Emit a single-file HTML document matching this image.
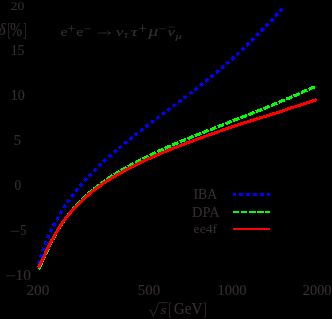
<!DOCTYPE html>
<html><head><meta charset="utf-8"><title>plot</title>
<style>
html,body{margin:0;padding:0;background:#000;}
body{width:332px;height:319px;overflow:hidden;}
svg{display:block;}
text{font-family:"Liberation Serif",serif;fill:#352e2e;stroke:#352e2e;stroke-width:0.15px;}
.i{font-style:italic;}
</style></head><body>
<svg width="332" height="319" viewBox="0 0 332 319">
<rect width="332" height="319" fill="#000"/>
<g shape-rendering="crispEdges">
<path d="M38.40,265.52 L38.90,263.34 L39.40,261.35 L39.90,259.50 L40.40,257.76 L40.90,256.10 L41.40,254.51 L41.90,252.99 L42.40,251.51 L42.90,250.08 L43.40,248.70 L43.90,247.35 L44.40,246.03 L44.90,244.74 L45.40,243.48 L45.90,242.25 L46.40,241.04 L46.90,239.85 L47.40,238.69 L47.90,237.54 L48.40,236.42 L48.90,235.31 L49.40,234.22 L49.90,233.14 L50.40,232.09 L50.90,231.04 L51.40,230.01 L51.90,229.00 L52.40,228.00 L52.90,227.01 L53.40,226.03 L53.90,225.07 L54.40,224.11 L54.90,223.17 L55.40,222.24 L55.90,221.32 L56.40,220.41 L56.90,219.51 L57.40,218.62 L57.90,217.74 L58.40,216.87 L58.90,216.01 L59.40,215.15 L59.90,214.31 L60.40,213.47 L60.90,212.64 L61.40,211.82 L61.90,211.01 L62.40,210.21 L62.90,209.41 L63.40,208.62 L63.90,207.84 L64.40,207.07 L64.90,206.30 L65.40,205.54 L65.90,204.78 L66.40,204.04 L66.90,203.30 L67.40,202.56 L67.90,201.84 L68.40,201.12 L68.90,200.40 L69.40,199.69 L69.90,198.99 L70.40,198.30 L70.90,197.60 L71.40,196.92 L71.90,196.24 L72.40,195.57 L72.90,194.90 L73.40,194.24 L73.90,193.58 L74.40,192.93 L74.90,192.29 L75.40,191.65 L75.90,191.01 L76.40,190.38 L76.90,189.76 L77.40,189.14 L77.90,188.52 L78.40,187.91 L78.90,187.31 L79.40,186.70 L79.90,186.11 L80.40,185.52 L80.90,184.93 L81.40,184.34 L81.90,183.77 L82.40,183.19 L82.90,182.62 L83.40,182.05 L83.90,181.49 L84.40,180.93 L84.90,180.37 L85.40,179.82 L85.90,179.27 L86.40,178.72 L86.90,178.18 L87.40,177.64 L87.90,177.10 L88.40,176.57 L88.90,176.04 L89.40,175.51 L89.90,174.99 L90.40,174.47 L90.90,173.95 L91.40,173.43 L91.90,172.92 L92.40,172.41 L92.90,171.90 L93.40,171.40 L93.90,170.90 L94.40,170.40 L94.90,169.90 L95.40,169.40 L95.90,168.91 L96.40,168.42 L96.90,167.93 L97.40,167.45 L97.90,166.96 L98.40,166.48 L98.90,166.00 L99.40,165.52 L99.90,165.05 L100.40,164.57 L100.90,164.10 L101.40,163.63 L101.90,163.17 L102.40,162.70 L102.90,162.24 L103.40,161.77 L103.90,161.31 L104.40,160.85 L104.90,160.40 L105.40,159.94 L105.90,159.49 L106.40,159.04 L106.90,158.59 L107.40,158.14 L107.90,157.69 L108.40,157.24 L108.90,156.80 L109.40,156.36 L109.90,155.91 L110.40,155.47 L110.90,155.04 L111.40,154.60 L111.90,154.16 L112.40,153.73 L112.90,153.29 L113.40,152.86 L113.90,152.43 L114.40,152.00 L114.90,151.57 L115.40,151.14 L115.90,150.72 L116.40,150.29 L116.90,149.87 L117.40,149.45 L117.90,149.02 L118.40,148.60 L118.90,148.18 L119.40,147.77 L119.90,147.35 L120.40,146.93 L120.90,146.52 L121.40,146.10 L121.90,145.69 L122.40,145.27 L122.90,144.86 L123.40,144.45 L123.90,144.04 L124.40,143.63 L124.90,143.22 L125.40,142.82 L125.90,142.41 L126.40,142.00 L126.90,141.60 L127.40,141.20 L127.90,140.79 L128.40,140.39 L128.90,139.99 L129.40,139.59 L129.90,139.19 L130.40,138.79 L130.90,138.39 L131.40,137.99 L131.90,137.59 L132.40,137.19 L132.90,136.80 L133.40,136.40 L133.90,136.01 L134.40,135.61 L134.90,135.22 L135.40,134.82 L135.90,134.43 L136.40,134.04 L136.90,133.65 L137.40,133.26 L137.90,132.87 L138.40,132.48 L138.90,132.09 L139.40,131.70 L139.90,131.31 L140.40,130.92 L140.90,130.53 L141.40,130.15 L141.90,129.76 L142.40,129.37 L142.90,128.99 L143.40,128.60 L143.90,128.22 L144.40,127.83 L144.90,127.45 L145.40,127.07 L145.90,126.68 L146.40,126.30 L146.90,125.92 L147.40,125.54 L147.90,125.16 L148.40,124.77 L148.90,124.39 L149.40,124.01 L149.90,123.63 L150.40,123.25 L150.90,122.87 L151.40,122.49 L151.90,122.12 L152.40,121.74 L152.90,121.36 L153.40,120.98 L153.90,120.60 L154.40,120.22 L154.90,119.85 L155.40,119.47 L155.90,119.09 L156.40,118.72 L156.90,118.34 L157.40,117.97 L157.90,117.59 L158.40,117.21 L158.90,116.84 L159.40,116.46 L159.90,116.09 L160.40,115.71 L160.90,115.34 L161.40,114.97 L161.90,114.59 L162.40,114.22 L162.90,113.84 L163.40,113.47 L163.90,113.10 L164.40,112.72 L164.90,112.35 L165.40,111.98 L165.90,111.60 L166.40,111.23 L166.90,110.86 L167.40,110.49 L167.90,110.11 L168.40,109.74 L168.90,109.37 L169.40,109.00 L169.90,108.62 L170.40,108.25 L170.90,107.88 L171.40,107.50 L171.90,107.13 L172.40,106.76 L172.90,106.39 L173.40,106.01 L173.90,105.64 L174.40,105.27 L174.90,104.89 L175.40,104.52 L175.90,104.15 L176.40,103.77 L176.90,103.40 L177.40,103.02 L177.90,102.65 L178.40,102.27 L178.90,101.90 L179.40,101.52 L179.90,101.15 L180.40,100.77 L180.90,100.40 L181.40,100.02 L181.90,99.64 L182.40,99.27 L182.90,98.89 L183.40,98.51 L183.90,98.13 L184.40,97.75 L184.90,97.38 L185.40,97.00 L185.90,96.62 L186.40,96.24 L186.90,95.86 L187.40,95.48 L187.90,95.09 L188.40,94.71 L188.90,94.33 L189.40,93.95 L189.90,93.57 L190.40,93.18 L190.90,92.80 L191.40,92.41 L191.90,92.03 L192.40,91.64 L192.90,91.26 L193.40,90.87 L193.90,90.48 L194.40,90.10 L194.90,89.71 L195.40,89.32 L195.90,88.93 L196.40,88.54 L196.90,88.15 L197.40,87.76 L197.90,87.37 L198.40,86.98 L198.90,86.58 L199.40,86.19 L199.90,85.80 L200.40,85.40 L200.90,85.01 L201.40,84.61 L201.90,84.21 L202.40,83.82 L202.90,83.42 L203.40,83.02 L203.90,82.62 L204.40,82.22 L204.90,81.82 L205.40,81.42 L205.90,81.02 L206.40,80.61 L206.90,80.21 L207.40,79.81 L207.90,79.40 L208.40,79.00 L208.90,78.59 L209.40,78.18 L209.90,77.77 L210.40,77.37 L210.90,76.96 L211.40,76.55 L211.90,76.14 L212.40,75.72 L212.90,75.31 L213.40,74.90 L213.90,74.48 L214.40,74.07 L214.90,73.65 L215.40,73.24 L215.90,72.82 L216.40,72.40 L216.90,71.98 L217.40,71.56 L217.90,71.14 L218.40,70.72 L218.90,70.30 L219.40,69.87 L219.90,69.45 L220.40,69.02 L220.90,68.60 L221.40,68.17 L221.90,67.74 L222.40,67.32 L222.90,66.89 L223.40,66.46 L223.90,66.02 L224.40,65.59 L224.90,65.16 L225.40,64.72 L225.90,64.29 L226.40,63.85 L226.90,63.42 L227.40,62.98 L227.90,62.54 L228.40,62.10 L228.90,61.66 L229.40,61.22 L229.90,60.78 L230.40,60.33 L230.90,59.89 L231.40,59.44 L231.90,59.00 L232.40,58.55 L232.90,58.10 L233.40,57.65 L233.90,57.20 L234.40,56.75 L234.90,56.30 L235.40,55.84 L235.90,55.39 L236.40,54.93 L236.90,54.48 L237.40,54.02 L237.90,53.56 L238.40,53.10 L238.90,52.64 L239.40,52.18 L239.90,51.72 L240.40,51.25 L240.90,50.79 L241.40,50.32 L241.90,49.86 L242.40,49.39 L242.90,48.92 L243.40,48.45 L243.90,47.98 L244.40,47.51 L244.90,47.03 L245.40,46.56 L245.90,46.08 L246.40,45.61 L246.90,45.13 L247.40,44.65 L247.90,44.17 L248.40,43.69 L248.90,43.21 L249.40,42.73 L249.90,42.24 L250.40,41.76 L250.90,41.27 L251.40,40.78 L251.90,40.29 L252.40,39.80 L252.90,39.31 L253.40,38.82 L253.90,38.33 L254.40,37.83 L254.90,37.34 L255.40,36.84 L255.90,36.35 L256.40,35.85 L256.90,35.35 L257.40,34.85 L257.90,34.34 L258.40,33.84 L258.90,33.34 L259.40,32.83 L259.90,32.32 L260.40,31.82 L260.90,31.31 L261.40,30.80 L261.90,30.29 L262.40,29.77 L262.90,29.26 L263.40,28.75 L263.90,28.23 L264.40,27.71 L264.90,27.19 L265.40,26.67 L265.90,26.15 L266.40,25.63 L266.90,25.11 L267.40,24.58 L267.90,24.06 L268.40,23.53 L268.90,23.00 L269.40,22.48 L269.90,21.95 L270.40,21.41 L270.90,20.88 L271.40,20.35 L271.90,19.81 L272.40,19.28 L272.90,18.74 L273.40,18.20 L273.90,17.66 L274.40,17.12 L274.90,16.58 L275.40,16.03 L275.90,15.49 L276.40,14.94 L276.90,14.39 L277.40,13.85 L277.90,13.30 L278.40,12.75 L278.90,12.19 L279.40,11.64 L279.90,11.08 L280.40,10.53 L280.90,9.97 L281.40,9.41 L281.90,8.85 L282.40,8.29 L282.90,7.73 L283.00,7.62" fill="none" stroke="#0000ff" stroke-width="3.3" stroke-dasharray="3.7 3.13" stroke-dashoffset="5.48"/>
<path d="M38.50,268.94 L39.00,268.14 L39.50,267.23 L40.00,266.26 L40.50,265.24 L41.00,264.19 L41.50,263.12 L42.00,262.04 L42.50,260.95 L43.00,259.85 L43.50,258.76 L44.00,257.66 L44.50,256.56 L45.00,255.47 L45.50,254.39 L46.00,253.31 L46.50,252.24 L47.00,251.17 L47.50,250.11 L48.00,249.06 L48.50,248.02 L49.00,246.99 L49.50,245.96 L50.00,244.95 L50.50,243.95 L51.00,242.95 L51.50,241.95 L52.00,240.97 L52.50,239.99 L53.00,239.02 L53.50,238.06 L54.00,237.11 L54.50,236.17 L55.00,235.24 L55.50,234.32 L56.00,233.41 L56.50,232.51 L57.00,231.63 L57.50,230.75 L58.00,229.90 L58.50,229.05 L59.00,228.22 L59.50,227.40 L60.00,226.60 L60.50,225.81 L61.00,225.03 L61.50,224.27 L62.00,223.51 L62.50,222.77 L63.00,222.04 L63.50,221.32 L64.00,220.61 L64.50,219.91 L65.00,219.22 L65.50,218.54 L66.00,217.87 L66.50,217.21 L67.00,216.55 L67.50,215.91 L68.00,215.27 L68.50,214.63 L69.00,214.01 L69.50,213.39 L70.00,212.78 L70.50,212.17 L71.00,211.57 L71.50,210.97 L72.00,210.38 L72.50,209.79 L73.00,209.21 L73.50,208.63 L74.00,208.06 L74.50,207.49 L75.00,206.92 L75.50,206.36 L76.00,205.81 L76.50,205.25 L77.00,204.71 L77.50,204.17 L78.00,203.64 L78.50,203.11 L79.00,202.58 L79.50,202.06 L80.00,201.55 L80.50,201.04 L81.00,200.54 L81.50,200.04 L82.00,199.55 L82.50,199.06 L83.00,198.58 L83.50,198.10 L84.00,197.62 L84.50,197.15 L85.00,196.69 L85.50,196.22 L86.00,195.77 L86.50,195.32 L87.00,194.87 L87.50,194.42 L88.00,193.99 L88.50,193.55 L89.00,193.12 L89.50,192.69 L90.00,192.27 L90.50,191.85 L91.00,191.43 L91.50,191.02 L92.00,190.61 L92.50,190.20 L93.00,189.79 L93.50,189.38 L94.00,188.98 L94.50,188.58 L95.00,188.18 L95.50,187.79 L96.00,187.39 L96.50,187.00 L97.00,186.61 L97.50,186.23 L98.00,185.84 L98.50,185.46 L99.00,185.08 L99.50,184.70 L100.00,184.33 L100.50,183.95 L101.00,183.58 L101.50,183.22 L102.00,182.85 L102.50,182.49 L103.00,182.13 L103.50,181.77 L104.00,181.41 L104.50,181.06 L105.00,180.71 L105.50,180.36 L106.00,180.01 L106.50,179.67 L107.00,179.33 L107.50,178.99 L108.00,178.65 L108.50,178.32 L109.00,177.99 L109.50,177.66 L110.00,177.33 L110.50,177.01 L111.00,176.69 L111.50,176.37 L112.00,176.05 L112.50,175.73 L113.00,175.41 L113.50,175.09 L114.00,174.78 L114.50,174.46 L115.00,174.15 L115.50,173.84 L116.00,173.53 L116.50,173.23 L117.00,172.92 L117.50,172.61 L118.00,172.31 L118.50,172.01 L119.00,171.71 L119.50,171.41 L120.00,171.11 L120.50,170.82 L121.00,170.52 L121.50,170.23 L122.00,169.94 L122.50,169.65 L123.00,169.36 L123.50,169.08 L124.00,168.79 L124.50,168.51 L125.00,168.23 L125.50,167.95 L126.00,167.68 L126.50,167.40 L127.00,167.13 L127.50,166.85 L128.00,166.58 L128.50,166.30 L129.00,166.03 L129.50,165.76 L130.00,165.49 L130.50,165.22 L131.00,164.95 L131.50,164.68 L132.00,164.41 L132.50,164.15 L133.00,163.88 L133.50,163.61 L134.00,163.35 L134.50,163.08 L135.00,162.82 L135.50,162.56 L136.00,162.29 L136.50,162.03 L137.00,161.77 L137.50,161.51 L138.00,161.25 L138.50,160.99 L139.00,160.73 L139.50,160.47 L140.00,160.21 L140.50,159.96 L141.00,159.70 L141.50,159.45 L142.00,159.19 L142.50,158.94 L143.00,158.69 L143.50,158.44 L144.00,158.19 L144.50,157.94 L145.00,157.69 L145.50,157.45 L146.00,157.20 L146.50,156.95 L147.00,156.71 L147.50,156.47 L148.00,156.22 L148.50,155.98 L149.00,155.74 L149.50,155.50 L150.00,155.26 L150.50,155.02 L151.00,154.78 L151.50,154.54 L152.00,154.30 L152.50,154.06 L153.00,153.82 L153.50,153.58 L154.00,153.34 L154.50,153.10 L155.00,152.87 L155.50,152.63 L156.00,152.39 L156.50,152.16 L157.00,151.92 L157.50,151.69 L158.00,151.45 L158.50,151.22 L159.00,150.99 L159.50,150.76 L160.00,150.53 L160.50,150.30 L161.00,150.07 L161.50,149.84 L162.00,149.61 L162.50,149.39 L163.00,149.16 L163.50,148.93 L164.00,148.71 L164.50,148.49 L165.00,148.26 L165.50,148.04 L166.00,147.82 L166.50,147.60 L167.00,147.38 L167.50,147.16 L168.00,146.94 L168.50,146.72 L169.00,146.50 L169.50,146.28 L170.00,146.06 L170.50,145.85 L171.00,145.63 L171.50,145.41 L172.00,145.20 L172.50,144.98 L173.00,144.77 L173.50,144.55 L174.00,144.34 L174.50,144.12 L175.00,143.91 L175.50,143.70 L176.00,143.49 L176.50,143.27 L177.00,143.06 L177.50,142.85 L178.00,142.64 L178.50,142.43 L179.00,142.22 L179.50,142.01 L180.00,141.80 L180.50,141.59 L181.00,141.38 L181.50,141.17 L182.00,140.96 L182.50,140.75 L183.00,140.55 L183.50,140.34 L184.00,140.13 L184.50,139.92 L185.00,139.72 L185.50,139.51 L186.00,139.30 L186.50,139.10 L187.00,138.89 L187.50,138.69 L188.00,138.48 L188.50,138.28 L189.00,138.07 L189.50,137.87 L190.00,137.66 L190.50,137.46 L191.00,137.25 L191.50,137.05 L192.00,136.85 L192.50,136.64 L193.00,136.44 L193.50,136.24 L194.00,136.04 L194.50,135.83 L195.00,135.63 L195.50,135.43 L196.00,135.23 L196.50,135.03 L197.00,134.83 L197.50,134.63 L198.00,134.44 L198.50,134.24 L199.00,134.05 L199.50,133.85 L200.00,133.66 L200.50,133.47 L201.00,133.28 L201.50,133.09 L202.00,132.89 L202.50,132.70 L203.00,132.51 L203.50,132.32 L204.00,132.13 L204.50,131.94 L205.00,131.75 L205.50,131.56 L206.00,131.37 L206.50,131.19 L207.00,131.00 L207.50,130.81 L208.00,130.61 L208.50,130.42 L209.00,130.23 L209.50,130.04 L210.00,129.85 L210.50,129.66 L211.00,129.46 L211.50,129.27 L212.00,129.08 L212.50,128.88 L213.00,128.68 L213.50,128.49 L214.00,128.29 L214.50,128.09 L215.00,127.89 L215.50,127.69 L216.00,127.49 L216.50,127.29 L217.00,127.09 L217.50,126.89 L218.00,126.69 L218.50,126.50 L219.00,126.30 L219.50,126.10 L220.00,125.90 L220.50,125.70 L221.00,125.50 L221.50,125.30 L222.00,125.10 L222.50,124.91 L223.00,124.71 L223.50,124.51 L224.00,124.31 L224.50,124.11 L225.00,123.92 L225.50,123.72 L226.00,123.52 L226.50,123.32 L227.00,123.13 L227.50,122.93 L228.00,122.73 L228.50,122.54 L229.00,122.34 L229.50,122.14 L230.00,121.95 L230.50,121.75 L231.00,121.55 L231.50,121.36 L232.00,121.16 L232.50,120.96 L233.00,120.77 L233.50,120.57 L234.00,120.38 L234.50,120.18 L235.00,119.98 L235.50,119.79 L236.00,119.59 L236.50,119.40 L237.00,119.20 L237.50,119.00 L238.00,118.81 L238.50,118.61 L239.00,118.42 L239.50,118.22 L240.00,118.03 L240.50,117.83 L241.00,117.63 L241.50,117.44 L242.00,117.24 L242.50,117.05 L243.00,116.85 L243.50,116.66 L244.00,116.46 L244.50,116.26 L245.00,116.07 L245.50,115.87 L246.00,115.68 L246.50,115.48 L247.00,115.29 L247.50,115.09 L248.00,114.89 L248.50,114.70 L249.00,114.50 L249.50,114.31 L250.00,114.11 L250.50,113.91 L251.00,113.72 L251.50,113.52 L252.00,113.33 L252.50,113.13 L253.00,112.93 L253.50,112.74 L254.00,112.54 L254.50,112.35 L255.00,112.15 L255.50,111.95 L256.00,111.76 L256.50,111.56 L257.00,111.36 L257.50,111.17 L258.00,110.97 L258.50,110.77 L259.00,110.58 L259.50,110.38 L260.00,110.18 L260.50,109.98 L261.00,109.79 L261.50,109.59 L262.00,109.39 L262.50,109.18 L263.00,108.98 L263.50,108.78 L264.00,108.57 L264.50,108.37 L265.00,108.16 L265.50,107.96 L266.00,107.75 L266.50,107.54 L267.00,107.33 L267.50,107.12 L268.00,106.92 L268.50,106.71 L269.00,106.50 L269.50,106.28 L270.00,106.07 L270.50,105.86 L271.00,105.65 L271.50,105.44 L272.00,105.23 L272.50,105.01 L273.00,104.80 L273.50,104.59 L274.00,104.38 L274.50,104.17 L275.00,103.95 L275.50,103.74 L276.00,103.53 L276.50,103.32 L277.00,103.11 L277.50,102.89 L278.00,102.68 L278.50,102.47 L279.00,102.26 L279.50,102.05 L280.00,101.84 L280.50,101.63 L281.00,101.42 L281.50,101.22 L282.00,101.01 L282.50,100.80 L283.00,100.59 L283.50,100.38 L284.00,100.17 L284.50,99.97 L285.00,99.76 L285.50,99.55 L286.00,99.34 L286.50,99.13 L287.00,98.92 L287.50,98.71 L288.00,98.50 L288.50,98.29 L289.00,98.08 L289.50,97.87 L290.00,97.66 L290.50,97.45 L291.00,97.23 L291.50,97.02 L292.00,96.81 L292.50,96.59 L293.00,96.37 L293.50,96.15 L294.00,95.93 L294.50,95.71 L295.00,95.49 L295.50,95.26 L296.00,95.03 L296.50,94.81 L297.00,94.58 L297.50,94.35 L298.00,94.12 L298.50,93.89 L299.00,93.66 L299.50,93.43 L300.00,93.21 L300.50,92.98 L301.00,92.75 L301.50,92.53 L302.00,92.30 L302.50,92.08 L303.00,91.86 L303.50,91.64 L304.00,91.42 L304.50,91.20 L305.00,90.99 L305.50,90.77 L306.00,90.56 L306.50,90.35 L307.00,90.13 L307.50,89.92 L308.00,89.71 L308.50,89.49 L309.00,89.28 L309.50,89.07 L310.00,88.85 L310.50,88.64 L311.00,88.43 L311.50,88.21 L312.00,88.00 L312.50,87.79 L313.00,87.58 L313.50,87.36 L314.00,87.15 L314.50,86.94 L315.00,86.73 L315.50,86.52 L315.60,86.48" fill="none" stroke="#00ff00" stroke-width="3.15" stroke-dasharray="6.7 1.49"/>
<path d="M38.30,267.48 L38.80,266.75 L39.30,265.90 L39.80,264.96 L40.30,263.98 L40.80,262.96 L41.30,261.92 L41.80,260.86 L42.30,259.79 L42.80,258.72 L43.30,257.65 L43.80,256.58 L44.30,255.51 L44.80,254.44 L45.30,253.38 L45.80,252.32 L46.30,251.27 L46.80,250.23 L47.30,249.19 L47.80,248.17 L48.30,247.15 L48.80,246.14 L49.30,245.15 L49.80,244.16 L50.30,243.18 L50.80,242.21 L51.30,241.25 L51.80,240.30 L52.30,239.36 L52.80,238.44 L53.30,237.52 L53.80,236.61 L54.30,235.72 L54.80,234.83 L55.30,233.95 L55.80,233.09 L56.30,232.24 L56.80,231.39 L57.30,230.56 L57.80,229.74 L58.30,228.92 L58.80,228.12 L59.30,227.33 L59.80,226.55 L60.30,225.78 L60.80,225.02 L61.30,224.28 L61.80,223.55 L62.30,222.83 L62.80,222.13 L63.30,221.44 L63.80,220.75 L64.30,220.08 L64.80,219.42 L65.30,218.76 L65.80,218.12 L66.30,217.49 L66.80,216.86 L67.30,216.24 L67.80,215.63 L68.30,215.03 L68.80,214.43 L69.30,213.84 L69.80,213.25 L70.30,212.67 L70.80,212.10 L71.30,211.53 L71.80,210.96 L72.30,210.40 L72.80,209.84 L73.30,209.29 L73.80,208.73 L74.30,208.18 L74.80,207.64 L75.30,207.09 L75.80,206.55 L76.30,206.02 L76.80,205.49 L77.30,204.97 L77.80,204.45 L78.30,203.94 L78.80,203.43 L79.30,202.93 L79.80,202.43 L80.30,201.93 L80.80,201.45 L81.30,200.96 L81.80,200.49 L82.30,200.01 L82.80,199.54 L83.30,199.08 L83.80,198.62 L84.30,198.16 L84.80,197.71 L85.30,197.27 L85.80,196.83 L86.30,196.39 L86.80,195.95 L87.30,195.52 L87.80,195.10 L88.30,194.68 L88.80,194.26 L89.30,193.85 L89.80,193.44 L90.30,193.03 L90.80,192.63 L91.30,192.23 L91.80,191.83 L92.30,191.44 L92.80,191.05 L93.30,190.66 L93.80,190.27 L94.30,189.89 L94.80,189.51 L95.30,189.13 L95.80,188.75 L96.30,188.38 L96.80,188.01 L97.30,187.64 L97.80,187.27 L98.30,186.91 L98.80,186.55 L99.30,186.19 L99.80,185.83 L100.30,185.48 L100.80,185.13 L101.30,184.78 L101.80,184.43 L102.30,184.09 L102.80,183.74 L103.30,183.40 L103.80,183.07 L104.30,182.73 L104.80,182.40 L105.30,182.07 L105.80,181.74 L106.30,181.41 L106.80,181.09 L107.30,180.77 L107.80,180.45 L108.30,180.13 L108.80,179.82 L109.30,179.51 L109.80,179.20 L110.30,178.89 L110.80,178.59 L111.30,178.28 L111.80,177.98 L112.30,177.68 L112.80,177.38 L113.30,177.08 L113.80,176.78 L114.30,176.49 L114.80,176.19 L115.30,175.90 L115.80,175.61 L116.30,175.31 L116.80,175.03 L117.30,174.74 L117.80,174.45 L118.30,174.16 L118.80,173.88 L119.30,173.59 L119.80,173.31 L120.30,173.03 L120.80,172.75 L121.30,172.47 L121.80,172.19 L122.30,171.91 L122.80,171.64 L123.30,171.36 L123.80,171.09 L124.30,170.81 L124.80,170.54 L125.30,170.27 L125.80,170.00 L126.30,169.73 L126.80,169.46 L127.30,169.19 L127.80,168.93 L128.30,168.66 L128.80,168.40 L129.30,168.13 L129.80,167.87 L130.30,167.61 L130.80,167.35 L131.30,167.08 L131.80,166.83 L132.30,166.57 L132.80,166.31 L133.30,166.06 L133.80,165.80 L134.30,165.55 L134.80,165.29 L135.30,165.04 L135.80,164.79 L136.30,164.54 L136.80,164.29 L137.30,164.05 L137.80,163.80 L138.30,163.56 L138.80,163.31 L139.30,163.07 L139.80,162.83 L140.30,162.58 L140.80,162.34 L141.30,162.10 L141.80,161.86 L142.30,161.63 L142.80,161.39 L143.30,161.15 L143.80,160.92 L144.30,160.68 L144.80,160.45 L145.30,160.22 L145.80,159.98 L146.30,159.75 L146.80,159.52 L147.30,159.29 L147.80,159.06 L148.30,158.84 L148.80,158.61 L149.30,158.38 L149.80,158.15 L150.30,157.93 L150.80,157.70 L151.30,157.48 L151.80,157.26 L152.30,157.03 L152.80,156.81 L153.30,156.59 L153.80,156.37 L154.30,156.15 L154.80,155.93 L155.30,155.71 L155.80,155.49 L156.30,155.27 L156.80,155.06 L157.30,154.84 L157.80,154.62 L158.30,154.41 L158.80,154.19 L159.30,153.97 L159.80,153.76 L160.30,153.54 L160.80,153.33 L161.30,153.12 L161.80,152.91 L162.30,152.70 L162.80,152.48 L163.30,152.28 L163.80,152.07 L164.30,151.86 L164.80,151.65 L165.30,151.44 L165.80,151.24 L166.30,151.03 L166.80,150.83 L167.30,150.63 L167.80,150.42 L168.30,150.22 L168.80,150.02 L169.30,149.82 L169.80,149.62 L170.30,149.42 L170.80,149.22 L171.30,149.02 L171.80,148.82 L172.30,148.62 L172.80,148.42 L173.30,148.23 L173.80,148.03 L174.30,147.83 L174.80,147.64 L175.30,147.44 L175.80,147.25 L176.30,147.05 L176.80,146.86 L177.30,146.67 L177.80,146.47 L178.30,146.28 L178.80,146.09 L179.30,145.89 L179.80,145.70 L180.30,145.51 L180.80,145.32 L181.30,145.13 L181.80,144.94 L182.30,144.75 L182.80,144.56 L183.30,144.37 L183.80,144.18 L184.30,143.99 L184.80,143.80 L185.30,143.61 L185.80,143.43 L186.30,143.24 L186.80,143.05 L187.30,142.86 L187.80,142.68 L188.30,142.49 L188.80,142.30 L189.30,142.12 L189.80,141.93 L190.30,141.74 L190.80,141.56 L191.30,141.37 L191.80,141.19 L192.30,141.00 L192.80,140.82 L193.30,140.63 L193.80,140.45 L194.30,140.26 L194.80,140.08 L195.30,139.90 L195.80,139.71 L196.30,139.53 L196.80,139.35 L197.30,139.16 L197.80,138.98 L198.30,138.80 L198.80,138.61 L199.30,138.43 L199.80,138.25 L200.30,138.06 L200.80,137.88 L201.30,137.70 L201.80,137.52 L202.30,137.34 L202.80,137.15 L203.30,136.97 L203.80,136.79 L204.30,136.61 L204.80,136.43 L205.30,136.25 L205.80,136.07 L206.30,135.89 L206.80,135.70 L207.30,135.52 L207.80,135.34 L208.30,135.16 L208.80,134.98 L209.30,134.80 L209.80,134.62 L210.30,134.44 L210.80,134.26 L211.30,134.09 L211.80,133.91 L212.30,133.73 L212.80,133.55 L213.30,133.37 L213.80,133.19 L214.30,133.02 L214.80,132.84 L215.30,132.66 L215.80,132.48 L216.30,132.31 L216.80,132.13 L217.30,131.95 L217.80,131.78 L218.30,131.60 L218.80,131.43 L219.30,131.25 L219.80,131.08 L220.30,130.90 L220.80,130.73 L221.30,130.56 L221.80,130.38 L222.30,130.21 L222.80,130.04 L223.30,129.86 L223.80,129.69 L224.30,129.52 L224.80,129.35 L225.30,129.18 L225.80,129.01 L226.30,128.84 L226.80,128.67 L227.30,128.50 L227.80,128.33 L228.30,128.16 L228.80,127.99 L229.30,127.82 L229.80,127.65 L230.30,127.48 L230.80,127.31 L231.30,127.15 L231.80,126.98 L232.30,126.81 L232.80,126.65 L233.30,126.48 L233.80,126.31 L234.30,126.15 L234.80,125.98 L235.30,125.81 L235.80,125.65 L236.30,125.48 L236.80,125.32 L237.30,125.15 L237.80,124.99 L238.30,124.83 L238.80,124.66 L239.30,124.50 L239.80,124.34 L240.30,124.17 L240.80,124.01 L241.30,123.85 L241.80,123.69 L242.30,123.52 L242.80,123.36 L243.30,123.20 L243.80,123.04 L244.30,122.88 L244.80,122.72 L245.30,122.56 L245.80,122.40 L246.30,122.24 L246.80,122.08 L247.30,121.92 L247.80,121.76 L248.30,121.60 L248.80,121.44 L249.30,121.28 L249.80,121.12 L250.30,120.97 L250.80,120.81 L251.30,120.65 L251.80,120.49 L252.30,120.34 L252.80,120.18 L253.30,120.02 L253.80,119.86 L254.30,119.71 L254.80,119.55 L255.30,119.40 L255.80,119.24 L256.30,119.08 L256.80,118.93 L257.30,118.77 L257.80,118.62 L258.30,118.46 L258.80,118.31 L259.30,118.15 L259.80,118.00 L260.30,117.84 L260.80,117.69 L261.30,117.53 L261.80,117.38 L262.30,117.22 L262.80,117.07 L263.30,116.91 L263.80,116.76 L264.30,116.61 L264.80,116.45 L265.30,116.30 L265.80,116.14 L266.30,115.99 L266.80,115.84 L267.30,115.68 L267.80,115.53 L268.30,115.38 L268.80,115.22 L269.30,115.07 L269.80,114.92 L270.30,114.76 L270.80,114.61 L271.30,114.46 L271.80,114.30 L272.30,114.15 L272.80,114.00 L273.30,113.85 L273.80,113.69 L274.30,113.54 L274.80,113.39 L275.30,113.24 L275.80,113.08 L276.30,112.93 L276.80,112.77 L277.30,112.62 L277.80,112.46 L278.30,112.30 L278.80,112.13 L279.30,111.97 L279.80,111.80 L280.30,111.63 L280.80,111.46 L281.30,111.29 L281.80,111.12 L282.30,110.94 L282.80,110.77 L283.30,110.60 L283.80,110.42 L284.30,110.25 L284.80,110.07 L285.30,109.90 L285.80,109.72 L286.30,109.55 L286.80,109.38 L287.30,109.21 L287.80,109.03 L288.30,108.86 L288.80,108.69 L289.30,108.53 L289.80,108.36 L290.30,108.19 L290.80,108.03 L291.30,107.87 L291.80,107.70 L292.30,107.54 L292.80,107.38 L293.30,107.21 L293.80,107.05 L294.30,106.89 L294.80,106.72 L295.30,106.56 L295.80,106.40 L296.30,106.24 L296.80,106.08 L297.30,105.92 L297.80,105.75 L298.30,105.59 L298.80,105.43 L299.30,105.27 L299.80,105.11 L300.30,104.95 L300.80,104.79 L301.30,104.63 L301.80,104.47 L302.30,104.31 L302.80,104.15 L303.30,103.99 L303.80,103.83 L304.30,103.67 L304.80,103.51 L305.30,103.35 L305.80,103.19 L306.30,103.03 L306.80,102.87 L307.30,102.71 L307.80,102.55 L308.30,102.39 L308.80,102.23 L309.30,102.07 L309.80,101.92 L310.30,101.76 L310.80,101.60 L311.30,101.44 L311.80,101.28 L312.30,101.12 L312.80,100.96 L313.30,100.81 L313.80,100.65 L314.30,100.49 L314.80,100.33 L315.30,100.17 L315.80,100.02 L316.30,99.86 L316.80,99.70" fill="none" stroke="#ff0000" stroke-width="3.1"/>
<g fill="#0000ff"><rect x="233" y="193" width="3" height="3"/><rect x="239" y="193" width="4" height="3"/><rect x="246" y="193" width="4" height="3"/><rect x="253" y="193" width="4" height="3"/><rect x="260" y="193" width="4" height="3"/><rect x="267" y="193" width="3" height="3"/></g>
<g fill="#00ff00"><rect x="233" y="211" width="6" height="2"/><rect x="241" y="211" width="6" height="2"/><rect x="249" y="211" width="7" height="2"/><rect x="257" y="211" width="7" height="2"/><rect x="265" y="211" width="5" height="2"/></g>
<rect x="233" y="228" width="37" height="2" fill="#ff0000"/>
</g>
<g style="filter:opacity(1)">
<text transform="translate(10.72,10.36) scale(0.969,0.954)" font-size="14">20</text>
<text transform="translate(10.79,55.25) scale(0.971,0.995)" font-size="14">15</text>
<text transform="translate(10.74,100.15) scale(1.004,0.995)" font-size="14">10</text>
<text transform="translate(13.82,145.05) scale(1.043,0.995)" font-size="14">5</text>
<text transform="translate(14.53,190.05) scale(0.950,1.005)" font-size="14">0</text>
<text transform="translate(20.25,234.95) scale(0.870,0.985)" font-size="14">5</text>
<text transform="translate(15.52,279.85) scale(1.102,0.995)" font-size="14">10</text>
<text transform="translate(26.45,294.55) scale(1.095,1.005)" font-size="14">200</text>
<text transform="translate(137.80,294.55) scale(1.063,1.005)" font-size="14">500</text>
<text transform="translate(217.40,294.55) scale(1.044,1.005)" font-size="14">1000</text>
<text transform="translate(302.79,294.55) scale(1.026,1.005)" font-size="14">2000</text>
<text transform="translate(193.41,199.30) scale(0.983,0.979)" font-size="14">IBA</text>
<text transform="translate(191.94,216.60) scale(1.038,0.989)" font-size="14">DPA</text>
<text transform="translate(193.61,233.37) scale(0.977,0.937)" font-size="14">ee4f</text>
<text transform="translate(160.53,314.06) scale(1.095,0.943)" font-size="14" class="i">s</text>
<text transform="translate(173.65,314.01) scale(1.091,1.169)" font-size="14">GeV</text>
<text transform="translate(-1.54,34.71) scale(1.088,1.141)" font-size="14" class="i">δ</text>
<text transform="translate(10.29,35.96) scale(1.014,1.364)" font-size="14">%</text>
<text transform="translate(60.43,36.07) scale(1.143,0.900)" font-size="14">e</text>
<text transform="translate(67.67,32.81) scale(1.263,1.220)" font-size="10">+</text>
<text transform="translate(76.13,36.07) scale(1.143,0.900)" font-size="14">e</text>
<text transform="translate(116.10,36.07) scale(1.217,0.933)" font-size="14" class="i">ν</text>
<text transform="translate(123.91,38.40) scale(1.173,1.011)" font-size="10" class="i">τ</text>
<text transform="translate(130.65,36.07) scale(1.390,0.933)" font-size="14" class="i">τ</text>
<text transform="translate(138.46,32.93) scale(1.474,1.380)" font-size="10">+</text>
<text transform="translate(148.60,36.29) scale(1.369,0.968)" font-size="14" class="i">μ</text>
<text transform="translate(167.60,36.07) scale(1.200,0.933)" font-size="14" class="i">ν</text>
<text transform="translate(175.60,39.20) scale(1.263,0.800)" font-size="10" class="i">μ</text>
<line x1="10.4" y1="231.3" x2="19.3" y2="231.3" stroke="#352e2e" stroke-width="0.8"/>
<line x1="6.3" y1="275.8" x2="15.2" y2="275.8" stroke="#352e2e" stroke-width="0.8"/>
<line x1="84.8" y1="28.7" x2="90.8" y2="28.7" stroke="#352e2e" stroke-width="0.7"/>
<line x1="159.0" y1="28.7" x2="165.7" y2="28.7" stroke="#352e2e" stroke-width="0.7"/>
<line x1="168.6" y1="27.0" x2="174.6" y2="27.0" stroke="#352e2e" stroke-width="0.7"/>
<path d="M98.2,33 H110.4 M107.6,30.6 Q108.6,32.6 110.7,33 Q108.6,33.4 107.6,35.4" fill="none" stroke="#352e2e" stroke-width="0.8"/>
<path d="M149.1,310.9 L150.7,309.9 L153.3,316.6 L158.8,302.7 H167.5" fill="none" stroke="#352e2e" stroke-width="0.8" stroke-linejoin="miter"/>
<path d="M171.2,302.9 H169.4 V317.3 H171.2" fill="none" stroke="#352e2e" stroke-width="0.8"/>
<path d="M203.6,302.9 H205.5 V317.3 H203.6" fill="none" stroke="#352e2e" stroke-width="0.8"/>
<path d="M10.4,23.6 H8.6 V38.4 H10.4" fill="none" stroke="#352e2e" stroke-width="0.8"/>
<path d="M23.7,23.6 H25.6 V38.4 H23.7" fill="none" stroke="#352e2e" stroke-width="0.8"/>
</g>
</svg>
</body></html>
